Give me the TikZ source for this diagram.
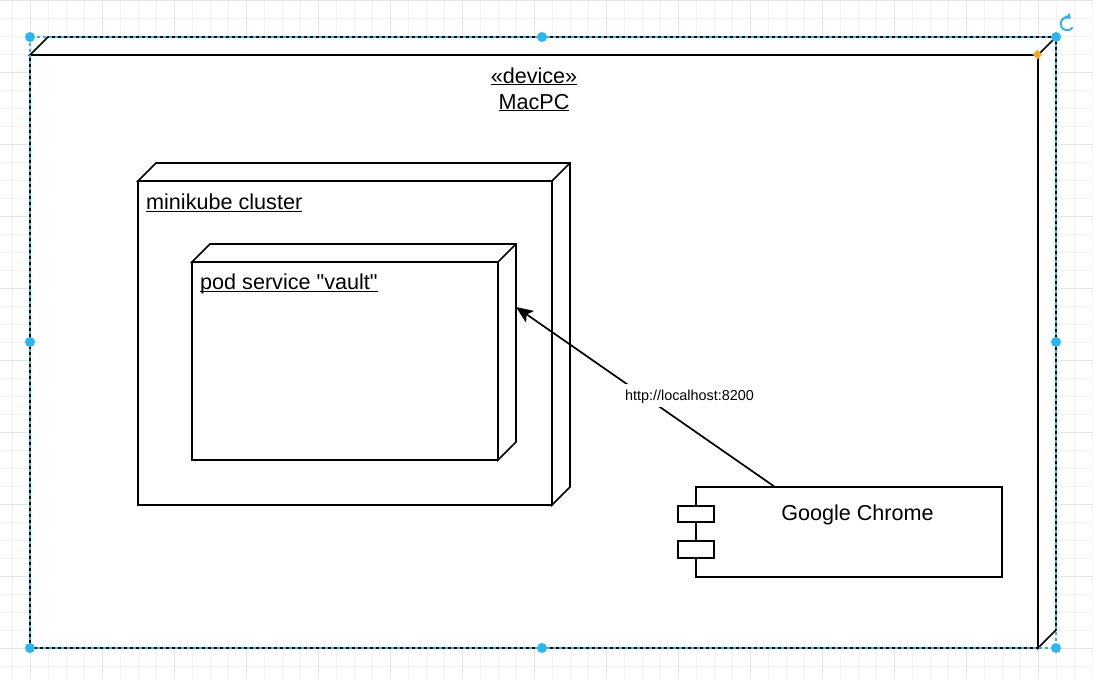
\documentclass[tikz,border=0pt]{standalone}
\usepackage{fontspec}
\setmainfont{Liberation Sans}
\usetikzlibrary{arrows.meta,calc}
\definecolor{selblue}{HTML}{29B6F2}
\definecolor{gridminor}{HTML}{F3F3F3}
\definecolor{gridmajor}{HTML}{E4E4E4}
\definecolor{handleorange}{HTML}{F5A623}
\newcommand\ulx[1]{\underline{\smash{#1}}}
\begin{document}
\begin{tikzpicture}[x=1pt,y=-1pt,
  box/.style={draw, line width=1.7pt, fill=white, inner sep=0pt, outer sep=0pt, anchor=north west},
  face/.style={draw, line width=1.7pt, fill=white, line join=miter},
  lbl/.style={font=\fontsize{21.6pt}{25pt}\selectfont, inner sep=0pt},
  small/.style={font=\fontsize{14.4pt}{17pt}\selectfont, fill=white, text height=10.5pt, text depth=0pt, inner xsep=2pt, inner ysep=6.5pt},
  conn/.style={line width=1.7pt, -{Stealth[length=17pt,width=14pt,inset=4pt]}},
  handle/.style={fill=selblue, draw=none},
  selection/.style={draw=selblue, line width=1.1pt, dash pattern=on 3pt off 3pt}]
% background and grid
\fill[white] (0,0) rectangle (1093,679);
\useasboundingbox (0,0) rectangle (1093,679);
\foreach \x in {12,30,...,1092} \draw[gridminor, line width=0.8pt] (\x,0) -- (\x,679);
\foreach \y in {0,18,...,678} \draw[gridminor, line width=0.8pt] (0,\y) -- (1093,\y);
\foreach \x in {30,102,...,1092} \draw[gridmajor, line width=0.8pt] (\x,0) -- (\x,679);
\foreach \y in {0,72,...,678} \draw[gridmajor, line width=0.8pt] (0,\y) -- (1093,\y);

% MacPC device node
\node[box, minimum width=1008pt, minimum height=593pt] (mac) at (30,55) {};
\draw[face] (mac.north west) -- ++(18,-18) -- ($(mac.north east)+(18,-18)$) -- ($(mac.south east)+(18,-18)$) -- (mac.south east) -- (mac.north east) -- cycle;
\draw[face] (mac.north east) -- ++(18,-18);
\node[lbl, anchor=base] (macs) at (534,83.3) {\ulx{«device»}};
\node[lbl, anchor=base] (macn) at (534,109.3) {\ulx{MacPC}};

% minikube cluster node
\node[box, minimum width=414pt, minimum height=324pt] (mk) at (138,181) {};
\draw[face] (mk.north west) -- ++(18,-18) -- ($(mk.north east)+(18,-18)$) -- ($(mk.south east)+(18,-18)$) -- (mk.south east) -- (mk.north east) -- cycle;
\draw[face] (mk.north east) -- ++(18,-18);
\node[lbl, anchor=base west] (mkl) at (146,210) {\ulx{minikube cluster}};

% pod node
\node[box, minimum width=306pt, minimum height=198pt] (pod) at (192,262) {};
\draw[face] (pod.north west) -- ++(18,-18) -- ($(pod.north east)+(18,-18)$) -- ($(pod.south east)+(18,-18)$) -- (pod.south east) -- (pod.north east) -- cycle;
\draw[face] (pod.north east) -- ++(18,-18);
\node[lbl, anchor=base west] (podl) at (200,290) {\ulx{pod service \textquotedbl vault\textquotedbl}};

% Google Chrome component
\node[box, minimum width=306pt, minimum height=90pt] (ch) at (696,487) {};
\node[box, minimum width=36pt, minimum height=16pt] (p1) at (678,506) {};
\node[box, minimum width=36pt, minimum height=17pt] (p2) at (678,541) {};
\node[lbl, anchor=base] (chl) at (857.5,520) {Google Chrome};

% connector
\coordinate (chs) at ($(ch.north west)+(79,0)$);
\coordinate (podr) at ($(pod.north east)+(18,45)$);
\draw[conn] (chs) -- node[small, pos=0.5, xshift=44pt, yshift=1.5pt] (url) {http://localhost:8200} (podr);

% selection overlay
\draw[selection] (30,37) rectangle (1056,648);
\foreach \p in {(30,37),(542,37),(1056,37),(30,342),(1056,342),(30,648),(542,648),(1056,648)}
  \fill[handle] \p circle (5pt);
\fill[handleorange] (1037.5,49.5) -- (1042,54.5) -- (1037.5,59.5) -- (1033,54.5) -- cycle;
\draw[selblue, line width=2pt, -{Triangle[length=4.5pt,width=7pt]}] (1072.5,27.5) arc[start angle=-35, end angle=-305, radius=6.5pt];
\end{tikzpicture}
\end{document}
